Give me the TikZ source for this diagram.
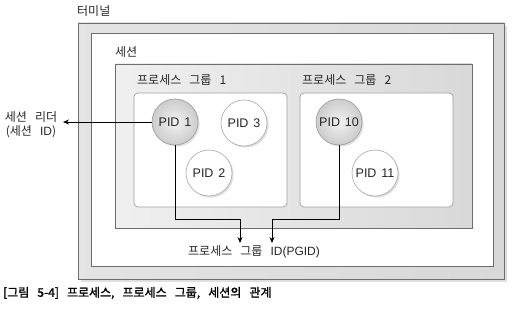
\documentclass[tikz,border=0pt]{standalone}
\usepackage{fontspec}
\setmainfont{Noto Sans CJK KR}[WordSpace=3]
\newfontfamily\lat{Liberation Sans}[WordSpace=1.4]
\newfontfamily\capfont{Noto Sans CJK KR}[FakeBold=1.4,WordSpace=3]
\usetikzlibrary{arrows.meta,shadows}
\definecolor{edge}{HTML}{6E6E6E}
\definecolor{frame}{HTML}{D8D8D8}
\tikzset{
  lbl/.style={inner sep=0pt, font=\fontsize{12}{14}\selectfont, text=black!85},
  grpbox/.style={draw=gray!75, fill=white, rounded corners=4pt, line width=0.7pt},
  pidw/.style={circle, draw=gray!70, fill=white, minimum size=46pt, inner sep=0pt,
    line width=0.6pt, font=\lat\fontsize{12.5}{14}\selectfont, text=black!85,
    drop shadow={shadow xshift=1.6pt, shadow yshift=-1.6pt, opacity=0.25, fill=gray}},
  pidg/.style={pidw, draw=gray!80, inner color=gray!10, outer color=gray!40},
  conn/.style={line width=0.7pt, black},
  arr/.style={conn, -{Stealth[length=6pt,width=5pt]}}
}
\begin{document}
\begin{tikzpicture}[x=1pt,y=-1pt]
\useasboundingbox (0,0) rectangle (517,318);
% terminal frame
\fill[gray!25] (81,26) rectangle (507,282);
\path[draw=edge, line width=0.8pt, left color=frame!70, right color=frame] (78,23) rectangle (504,279);
\draw[edge, line width=0.8pt, fill=white] (91,33) rectangle (493,266);
\node[lbl, anchor=west] (term) at (77,11) {터미널};
% session
\path[draw=edge, line width=0.8pt, left color=gray!12, right color=gray!30] (115,64) rectangle (472,228);
\node[lbl, anchor=west] (sess) at (115,52) {세션};
% groups
\draw[grpbox] (134,93) rectangle (287,207);
\draw[grpbox] (300,93) rectangle (453,207);
\node[lbl, anchor=west] (g1) at (137,80) {프로세스 그룹 1};
\node[lbl, anchor=west] (g2) at (302,80) {프로세스 그룹 2};
% processes
\node[pidg] (p1) at (175,122) {PID 1};
\node[pidw] (p3) at (244,123) {PID 3};
\node[pidw] (p2) at (209,173) {PID 2};
\node[pidg] (p10) at (339,122) {PID 10};
\node[pidw] (p11) at (375,173) {PID 11};
% session leader
\node[lbl, align=center] (leader) at (31,125) {세션 리더\\(세션 {\lat ID})};
\coordinate (ltip) at (63,122);
\draw[arr] (p1.west) -- (ltip);
% PGID
\node[lbl, anchor=west] (pgid) at (188,252) {프로세스 그룹 {\lat\fontsize{12}{14}\selectfont ID(PGID)}};
\coordinate (a1) at (240,243);
\coordinate (a2) at (272,243);
\draw[arr] (p1.south) |- (240,219) -- (a1);
\draw[arr] (p10.south) |- (272,219) -- (a2);
% caption
\node[inner sep=0pt, anchor=west, font=\capfont\fontsize{12}{12}\selectfont] (cap) at (3,293) {[그림 5-4] 프로세스, 프로세스 그룹, 세션의 관계};
\end{tikzpicture}
\end{document}
